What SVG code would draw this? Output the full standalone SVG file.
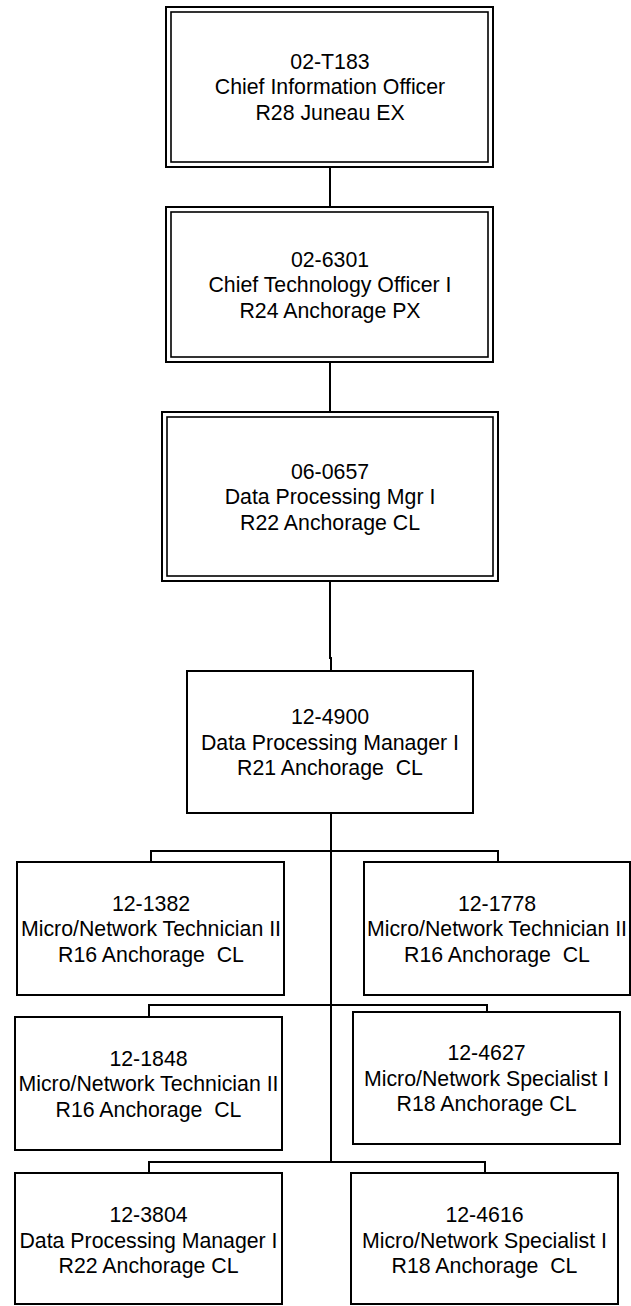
<svg xmlns="http://www.w3.org/2000/svg" width="631" height="1306" viewBox="0 0 631 1306">
<style>
.o{fill:#fff;stroke:#000;stroke-width:2}
.i{fill:none;stroke:#000;stroke-width:1.6}
.b{fill:#fff;stroke:#000;stroke-width:2}
.c{fill:none;stroke:#000;stroke-width:2}
text{font-family:"Liberation Sans",Arial,sans-serif;font-size:21.3px;fill:#000;text-anchor:middle;white-space:pre}
</style>
<rect width="631" height="1306" fill="#fff"/>
<g id="connectors">
<path class="c" d="M330,167 V207"/>
<path class="c" d="M330,362 V412"/>
<path class="c" d="M330,581 V658 H331 V671"/>
<path class="c" d="M331,813 V1162"/>
<path class="c" d="M151,862 V851 H498 V862"/>
<path class="c" d="M149,1017 V1005 H487 V1012"/>
<path class="c" d="M149,1173 V1162 H485 V1173"/>
</g>
<g id="n02-T183">
<rect class="o" x="166" y="7" width="327" height="160"/>
<rect class="i" x="171" y="12" width="317" height="150"/>
<text x="330" y="68.5">02-T183<tspan x="330" dy="25.5">Chief Information Officer</tspan><tspan x="330" dy="25.5">R28 Juneau EX</tspan></text>
</g>
<g id="n02-6301">
<rect class="o" x="166" y="207" width="327" height="155"/>
<rect class="i" x="171" y="212" width="317" height="145"/>
<text x="330" y="266.5">02-6301<tspan x="330" dy="25.5">Chief Technology Officer I</tspan><tspan x="330" dy="25.5">R24 Anchorage PX</tspan></text>
</g>
<g id="n06-0657">
<rect class="o" x="162" y="412" width="336" height="169"/>
<rect class="i" x="167" y="417" width="326" height="159"/>
<text x="330" y="478.5">06-0657<tspan x="330" dy="25.5">Data Processing Mgr I</tspan><tspan x="330" dy="25.5">R22 Anchorage CL</tspan></text>
</g>
<g id="n12-4900">
<rect class="b" x="187" y="671" width="286" height="142"/>
<text x="330" y="724">12-4900<tspan x="330" dy="25.5">Data Processing Manager I</tspan><tspan x="330" dy="25.5">R21 Anchorage  CL</tspan></text>
</g>
<g id="n12-1382">
<rect class="b" x="17" y="862" width="267" height="133"/>
<text x="151" y="910.5">12-1382<tspan x="151" dy="25.5">Micro/Network Technician II</tspan><tspan x="151" dy="25.5">R16 Anchorage  CL</tspan></text>
</g>
<g id="n12-1778">
<rect class="b" x="364" y="862" width="266" height="133"/>
<text x="497" y="910.5">12-1778<tspan x="497" dy="25.5">Micro/Network Technician II</tspan><tspan x="497" dy="25.5">R16 Anchorage  CL</tspan></text>
</g>
<g id="n12-1848">
<rect class="b" x="15" y="1017" width="267" height="133"/>
<text x="148.5" y="1065.5">12-1848<tspan x="148.5" dy="25.5">Micro/Network Technician II</tspan><tspan x="148.5" dy="25.5">R16 Anchorage  CL</tspan></text>
</g>
<g id="n12-4627">
<rect class="b" x="353" y="1012" width="267" height="132"/>
<text x="486.5" y="1060">12-4627<tspan x="486.5" dy="25.5">Micro/Network Specialist I</tspan><tspan x="486.5" dy="25.5">R18 Anchorage CL</tspan></text>
</g>
<g id="n12-3804">
<rect class="b" x="15" y="1173" width="267" height="131"/>
<text x="148.5" y="1222">12-3804<tspan x="148.5" dy="25.5">Data Processing Manager I</tspan><tspan x="148.5" dy="25.5">R22 Anchorage CL</tspan></text>
</g>
<g id="n12-4616">
<rect class="b" x="351" y="1173" width="267" height="131"/>
<text x="484.5" y="1222">12-4616<tspan x="484.5" dy="25.5">Micro/Network Specialist I</tspan><tspan x="484.5" dy="25.5">R18 Anchorage  CL</tspan></text>
</g>
</svg>
